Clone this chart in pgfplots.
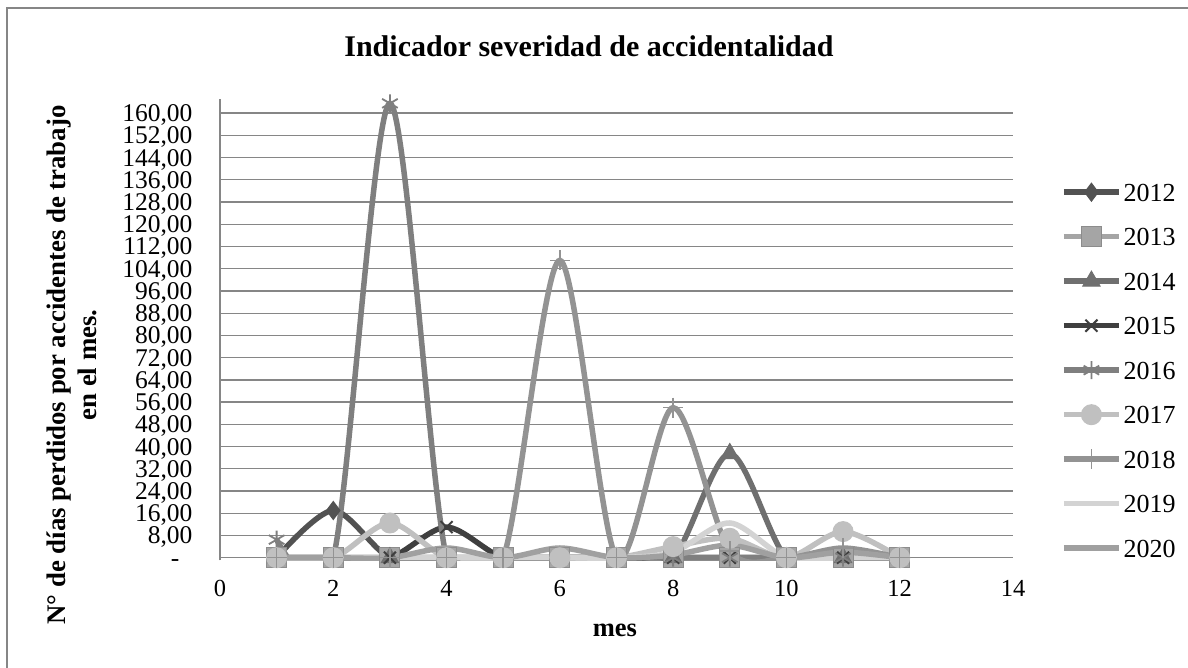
\documentclass[border=0pt]{standalone}
\usepackage{pgfplots}
\pgfplotsset{compat=1.18}
\usepackage{fontspec}
\setmainfont{Liberation Serif}
\definecolor{gridc}{HTML}{868686}
\definecolor{c12}{HTML}{525252}
\definecolor{c13}{HTML}{A5A5A5}
\definecolor{c14}{HTML}{6F6F6F}
\definecolor{c15}{HTML}{3F3F3F}
\definecolor{c16}{HTML}{7F7F7F}
\definecolor{c17}{HTML}{C0C0C0}
\definecolor{c18}{HTML}{939393}
\definecolor{c19}{HTML}{D3D3D3}
\definecolor{c20}{HTML}{A0A0A0}
\begin{document}
\begin{tikzpicture}
\useasboundingbox (0,0) rectangle (1188pt,668pt);
\fill[white] (0,0) rectangle (1188pt,668pt);
\draw[color=gridc, line width=1.3pt] (7pt,0pt) -- (7pt,660pt) -- (1188pt,660pt);
\begin{axis}[
  at={(220pt,107.5pt)}, anchor=south west,
  scale only axis, width=793pt, height=461.3pt,
  xmin=0, xmax=14, ymin=-1, ymax=165,
  axis x line*=bottom, axis y line*=left,
  x axis line style={draw=none},
  y axis line style={draw=gridc, line width=1.3pt},
  xtick={0,2,...,14}, ytick={0,8,...,160},
  yticklabels={{-\kern13pt},{8,00},{16,00},{24,00},{32,00},{40,00},{48,00},{56,00},{64,00},{72,00},{80,00},{88,00},{96,00},{104,00},{112,00},{120,00},{128,00},{136,00},{144,00},{152,00},{160,00}},
  ymajorgrids, grid style={draw=gridc, line width=1.3pt},
  major tick length=0pt,
  /pgf/number format/assume math mode=true,
  xticklabel style={yshift=-16pt, font=\fontsize{24.5}{24.5}\selectfont},
  yticklabel style={xshift=-24pt, font=\fontsize{25.5}{25.5}\selectfont, text height=17pt, text depth=0pt, inner ysep=0pt},
  title={Indicador severidad de accidentalidad},
  title style={at={(axis description cs:0.4653,1.101)}, anchor=center, font=\bfseries\fontsize{30}{30}\selectfont},
  xlabel={mes},
  every axis x label/.style={at={(axis description cs:0.498,-0.1507)}, anchor=center, font=\bfseries\fontsize{26.5}{26.5}\selectfont},
  ylabel={N° de días perdidos por accidentes de trabajo\\en el mes.},
  every axis y label/.style={at={(axis description cs:-0.1866,0.4238)}, rotate=90, anchor=center, align=center, font=\bfseries\fontsize{26.8}{31}\selectfont},
  legend style={at={(axis description cs:1.0605,0.8227)}, anchor=north west, draw=none, fill=none, inner sep=0pt, row sep=22.5pt, font=\fontsize{26}{26}\selectfont, nodes={inner sep=2pt, text height=18pt, text depth=0pt}},
  legend cell align=left,
  legend image code/.code={\draw[mark repeat=2,mark phase=2,#1] plot coordinates {(0pt,0pt)(27.5pt,0pt)(55pt,0pt)};},
  every axis plot/.append style={line width=5.5pt, smooth},
]
\addplot[color=c12, mark=diamond*, mark size=9pt, mark options={solid, line width=1pt, fill=c12}] coordinates {(1,0)(2,17)(3,0)(4,0)(5,0)(6,0)(7,0)(8,0)(9,0)(10,0)(11,0)(12,0)};
\addlegendentry{2012}
\addplot[color=c13, mark=square*, mark size=10pt, mark options={solid, line width=1pt, fill=c13, draw=c13!85!black}] coordinates {(1,0)(2,0)(3,0)(4,0)(5,0)(6,0)(7,0)(8,0)(9,0)(10,0)(11,0)(12,0)};
\addlegendentry{2013}
\addplot[color=c14, mark=triangle*, mark size=10pt, mark options={solid, line width=1pt, fill=c14}] coordinates {(1,0)(2,0)(3,0)(4,0)(5,0)(6,0)(7,0)(8,0)(9,37.5)(10,0)(11,0)(12,0)};
\addlegendentry{2014}
\addplot[color=c15, mark=x, mark size=8.5pt, mark options={solid, line width=2pt}] coordinates {(1,0)(2,0)(3,0)(4,11)(5,0)(6,0)(7,0)(8,0)(9,0)(10,0)(11,0)(12,0)};
\addlegendentry{2015}
\addplot[color=c16, mark=asterisk, mark size=9pt, mark options={solid, line width=1.8pt}] coordinates {(1,6.5)(2,0)(3,163.5)(4,0)(5,0)(6,0)(7,0)(8,0)(9,0)(10,0)(11,0)(12,0)};
\addlegendentry{2016}
\addplot[color=c17, mark=*, mark size=10pt, mark options={solid, line width=1pt, fill=c17}] coordinates {(1,0)(2,0)(3,12.5)(4,0)(5,0)(6,0)(7,0)(8,4)(9,7)(10,0)(11,9.4)(12,0)};
\addlegendentry{2017}
\addplot[color=c18, mark=+, mark size=10pt, mark options={solid, line width=1.5pt}] coordinates {(1,0)(2,0)(3,0)(4,0)(5,0)(6,107)(7,0)(8,54)(9,2.5)(10,0)(11,3.5)(12,0)};
\addlegendentry{2018}
\addplot[color=c19] coordinates {(1,0)(2,0)(3,0)(4,0)(5,0)(6,0)(7,0)(8,2)(9,12.5)(10,0)(11,0)(12,0)};
\addlegendentry{2019}
\addplot[color=c20] coordinates {(1,0)(2,0)(3,0)(4,3.5)(5,0)(6,3.5)(7,0)(8,1)(9,4.5)(10,0)(11,2)(12,0)};
\addlegendentry{2020}
\end{axis}
\end{tikzpicture}
\end{document}
